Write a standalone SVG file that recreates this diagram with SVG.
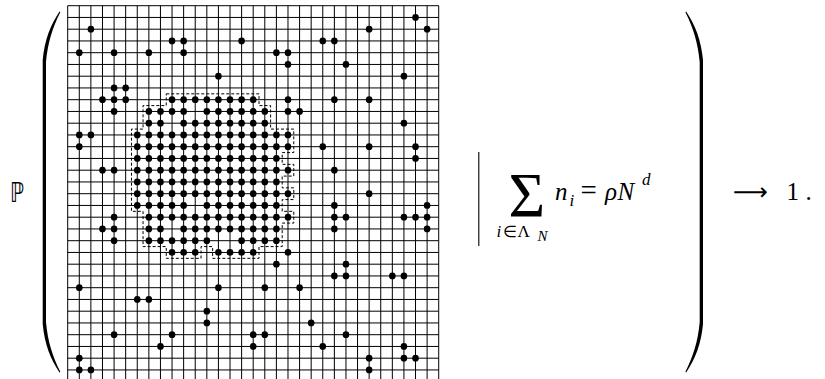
<svg xmlns="http://www.w3.org/2000/svg" width="825" height="379" viewBox="0 0 825 379">
<style>
.grid{fill:none;stroke:#000;stroke-width:1}
.dot{fill:#000}
.contour{fill:none;stroke:#000;stroke-width:1;stroke-dasharray:3 2}
.paren{fill:#000}
.t{font-family:"Liberation Serif","Times New Roman",serif;fill:#000}
.bb{font-family:"DejaVu Sans",sans-serif;fill:#000}
.it{font-style:italic}
</style>
<rect width="825" height="379" fill="#fff"/>
<g id="probability">
<text class="bb" x="10" y="201.5" font-size="27" textLength="14" lengthAdjust="spacingAndGlyphs">ℙ</text>
</g>
<g id="left-paren">
<path class="paren" d="M59.5,11.5 C50.5,25 44.5,40 42.7,60 L42.7,324 C44.5,344 50.5,359 59.5,372.5 L60.3,371.8 C52.8,357 47.8,342 46,322 L46,62 C47.8,42 52.8,27 60.3,12.2 Z"/>
</g>
<g id="lattice">
<path class="grid" d="M67.7 5.7V379M79.29 5.7V379M90.89 5.7V379M102.48 5.7V379M114.08 5.7V379M125.67 5.7V379M137.26 5.7V379M148.86 5.7V379M160.45 5.7V379M172.05 5.7V379M183.64 5.7V379M195.23 5.7V379M206.83 5.7V379M218.42 5.7V379M230.02 5.7V379M241.61 5.7V379M253.2 5.7V379M264.8 5.7V379M276.39 5.7V379M287.99 5.7V379M299.58 5.7V379M311.17 5.7V379M322.77 5.7V379M334.36 5.7V379M345.96 5.7V379M357.55 5.7V379M369.14 5.7V379M380.74 5.7V379M392.33 5.7V379M403.93 5.7V379M415.52 5.7V379M427.11 5.7V379M438.71 5.7V379
M67.7 5.7H438.71M67.7 17.45H438.71M67.7 29.2H438.71M67.7 40.95H438.71M67.7 52.7H438.71M67.7 64.45H438.71M67.7 76.2H438.71M67.7 87.95H438.71M67.7 99.7H438.71M67.7 111.45H438.71M67.7 123.2H438.71M67.7 134.95H438.71M67.7 146.7H438.71M67.7 158.45H438.71M67.7 170.2H438.71M67.7 181.95H438.71M67.7 193.7H438.71M67.7 205.45H438.71M67.7 217.2H438.71M67.7 228.95H438.71M67.7 240.7H438.71M67.7 252.45H438.71M67.7 264.2H438.71M67.7 275.95H438.71M67.7 287.7H438.71M67.7 299.45H438.71M67.7 311.2H438.71M67.7 322.95H438.71M67.7 334.7H438.71M67.7 346.45H438.71M67.7 358.2H438.71M67.7 369.95H438.71"/>
</g>
<g id="droplet-boundary">
<path class="contour" d="M166.25,93.83 H259 V105.58 H270.6 V129.08 H293.78 V152.58 H282.19 V164.33 H293.78 V176.08 H282.19 V187.83 H293.78 V199.58 H282.19 V211.33 H293.78 V223.08 H282.19 V246.58 H259 V258.33 H212.63 V246.58 H201.03 V258.33 H166.25 V246.58 H143.06 V211.33 H131.47 V129.08 H143.06 V105.58 H166.25 Z"/>
</g>
<g id="particles" class="dot" transform="matrix(11.594 0 0 11.75 67.7 5.7)">
<!-- droplet -->
<circle cx="9" cy="8" r="0.285"/><circle cx="10" cy="8" r="0.285"/><circle cx="11" cy="8" r="0.285"/><circle cx="12" cy="8" r="0.285"/><circle cx="13" cy="8" r="0.285"/><circle cx="14" cy="8" r="0.285"/><circle cx="15" cy="8" r="0.285"/><circle cx="16" cy="8" r="0.285"/>
<circle cx="7" cy="9" r="0.285"/><circle cx="8" cy="9" r="0.285"/><circle cx="9" cy="9" r="0.285"/><circle cx="10" cy="9" r="0.285"/><circle cx="12" cy="9" r="0.285"/><circle cx="13" cy="9" r="0.285"/><circle cx="14" cy="9" r="0.285"/><circle cx="15" cy="9" r="0.285"/><circle cx="16" cy="9" r="0.285"/><circle cx="17" cy="9" r="0.285"/>
<circle cx="7" cy="10" r="0.285"/><circle cx="8" cy="10" r="0.285"/><circle cx="10" cy="10" r="0.285"/><circle cx="11" cy="10" r="0.285"/><circle cx="12" cy="10" r="0.285"/><circle cx="13" cy="10" r="0.285"/><circle cx="14" cy="10" r="0.285"/><circle cx="15" cy="10" r="0.285"/><circle cx="16" cy="10" r="0.285"/><circle cx="17" cy="10" r="0.285"/>
<circle cx="6" cy="11" r="0.285"/><circle cx="7" cy="11" r="0.285"/><circle cx="8" cy="11" r="0.285"/><circle cx="9" cy="11" r="0.285"/><circle cx="10" cy="11" r="0.285"/><circle cx="11" cy="11" r="0.285"/><circle cx="12" cy="11" r="0.285"/><circle cx="13" cy="11" r="0.285"/><circle cx="14" cy="11" r="0.285"/><circle cx="15" cy="11" r="0.285"/><circle cx="16" cy="11" r="0.285"/><circle cx="17" cy="11" r="0.285"/><circle cx="18" cy="11" r="0.285"/><circle cx="19" cy="11" r="0.285"/>
<circle cx="6" cy="12" r="0.285"/><circle cx="7" cy="12" r="0.285"/><circle cx="8" cy="12" r="0.285"/><circle cx="9" cy="12" r="0.285"/><circle cx="10" cy="12" r="0.285"/><circle cx="11" cy="12" r="0.285"/><circle cx="12" cy="12" r="0.285"/><circle cx="13" cy="12" r="0.285"/><circle cx="14" cy="12" r="0.285"/><circle cx="15" cy="12" r="0.285"/><circle cx="16" cy="12" r="0.285"/><circle cx="17" cy="12" r="0.285"/><circle cx="18" cy="12" r="0.285"/><circle cx="19" cy="12" r="0.285"/>
<circle cx="6" cy="13" r="0.285"/><circle cx="7" cy="13" r="0.285"/><circle cx="8" cy="13" r="0.285"/><circle cx="9" cy="13" r="0.285"/><circle cx="10" cy="13" r="0.285"/><circle cx="11" cy="13" r="0.285"/><circle cx="12" cy="13" r="0.285"/><circle cx="13" cy="13" r="0.285"/><circle cx="14" cy="13" r="0.285"/><circle cx="15" cy="13" r="0.285"/><circle cx="16" cy="13" r="0.285"/><circle cx="17" cy="13" r="0.285"/><circle cx="18" cy="13" r="0.285"/>
<circle cx="6" cy="14" r="0.285"/><circle cx="7" cy="14" r="0.285"/><circle cx="8" cy="14" r="0.285"/><circle cx="9" cy="14" r="0.285"/><circle cx="10" cy="14" r="0.285"/><circle cx="11" cy="14" r="0.285"/><circle cx="12" cy="14" r="0.285"/><circle cx="13" cy="14" r="0.285"/><circle cx="14" cy="14" r="0.285"/><circle cx="15" cy="14" r="0.285"/><circle cx="16" cy="14" r="0.285"/><circle cx="17" cy="14" r="0.285"/><circle cx="18" cy="14" r="0.285"/><circle cx="19" cy="14" r="0.285"/>
<circle cx="6" cy="15" r="0.285"/><circle cx="7" cy="15" r="0.285"/><circle cx="8" cy="15" r="0.285"/><circle cx="9" cy="15" r="0.285"/><circle cx="10" cy="15" r="0.285"/><circle cx="11" cy="15" r="0.285"/><circle cx="12" cy="15" r="0.285"/><circle cx="13" cy="15" r="0.285"/><circle cx="14" cy="15" r="0.285"/><circle cx="15" cy="15" r="0.285"/><circle cx="16" cy="15" r="0.285"/><circle cx="17" cy="15" r="0.285"/><circle cx="18" cy="15" r="0.285"/>
<circle cx="6" cy="16" r="0.285"/><circle cx="7" cy="16" r="0.285"/><circle cx="8" cy="16" r="0.285"/><circle cx="9" cy="16" r="0.285"/><circle cx="10" cy="16" r="0.285"/><circle cx="11" cy="16" r="0.285"/><circle cx="12" cy="16" r="0.285"/><circle cx="13" cy="16" r="0.285"/><circle cx="14" cy="16" r="0.285"/><circle cx="15" cy="16" r="0.285"/><circle cx="16" cy="16" r="0.285"/><circle cx="17" cy="16" r="0.285"/><circle cx="18" cy="16" r="0.285"/><circle cx="19" cy="16" r="0.285"/>
<circle cx="6" cy="17" r="0.285"/><circle cx="7" cy="17" r="0.285"/><circle cx="8" cy="17" r="0.285"/><circle cx="9" cy="17" r="0.285"/><circle cx="10" cy="17" r="0.285"/><circle cx="12" cy="17" r="0.285"/><circle cx="13" cy="17" r="0.285"/><circle cx="14" cy="17" r="0.285"/><circle cx="15" cy="17" r="0.285"/><circle cx="16" cy="17" r="0.285"/><circle cx="17" cy="17" r="0.285"/><circle cx="18" cy="17" r="0.285"/>
<circle cx="7" cy="18" r="0.285"/><circle cx="8" cy="18" r="0.285"/><circle cx="9" cy="18" r="0.285"/><circle cx="10" cy="18" r="0.285"/><circle cx="11" cy="18" r="0.285"/><circle cx="12" cy="18" r="0.285"/><circle cx="13" cy="18" r="0.285"/><circle cx="14" cy="18" r="0.285"/><circle cx="15" cy="18" r="0.285"/><circle cx="16" cy="18" r="0.285"/><circle cx="17" cy="18" r="0.285"/><circle cx="18" cy="18" r="0.285"/><circle cx="19" cy="18" r="0.285"/>
<circle cx="7" cy="19" r="0.285"/><circle cx="8" cy="19" r="0.285"/><circle cx="10" cy="19" r="0.285"/><circle cx="11" cy="19" r="0.285"/><circle cx="12" cy="19" r="0.285"/><circle cx="13" cy="19" r="0.285"/><circle cx="14" cy="19" r="0.285"/><circle cx="15" cy="19" r="0.285"/><circle cx="16" cy="19" r="0.285"/><circle cx="17" cy="19" r="0.285"/><circle cx="18" cy="19" r="0.285"/>
<circle cx="7" cy="20" r="0.285"/><circle cx="8" cy="20" r="0.285"/><circle cx="9" cy="20" r="0.285"/><circle cx="10" cy="20" r="0.285"/><circle cx="11" cy="20" r="0.285"/><circle cx="12" cy="20" r="0.285"/><circle cx="15" cy="20" r="0.285"/><circle cx="16" cy="20" r="0.285"/><circle cx="17" cy="20" r="0.285"/><circle cx="18" cy="20" r="0.285"/>
<circle cx="9" cy="21" r="0.285"/><circle cx="10" cy="21" r="0.285"/><circle cx="11" cy="21" r="0.285"/><circle cx="13" cy="21" r="0.285"/><circle cx="14" cy="21" r="0.285"/><circle cx="15" cy="21" r="0.285"/><circle cx="16" cy="21" r="0.285"/>
<!-- vapour -->
<circle cx="30" cy="1" r="0.285"/>
<circle cx="2" cy="2" r="0.285"/><circle cx="26" cy="2" r="0.285"/><circle cx="31" cy="2" r="0.285"/>
<circle cx="9" cy="3" r="0.285"/><circle cx="10" cy="3" r="0.285"/><circle cx="15" cy="3" r="0.285"/><circle cx="22" cy="3" r="0.285"/><circle cx="23" cy="3" r="0.285"/>
<circle cx="1" cy="4" r="0.285"/><circle cx="4" cy="4" r="0.285"/><circle cx="7" cy="4" r="0.285"/><circle cx="10" cy="4" r="0.285"/><circle cx="18" cy="4" r="0.285"/><circle cx="19" cy="4" r="0.285"/>
<circle cx="19" cy="5" r="0.285"/><circle cx="24" cy="5" r="0.285"/>
<circle cx="13" cy="6" r="0.285"/><circle cx="29" cy="6" r="0.285"/>
<circle cx="4" cy="7" r="0.285"/><circle cx="5" cy="7" r="0.285"/>
<circle cx="3" cy="8" r="0.285"/><circle cx="4" cy="8" r="0.285"/><circle cx="5" cy="8" r="0.285"/><circle cx="19" cy="8" r="0.285"/><circle cx="23" cy="8" r="0.285"/><circle cx="26" cy="8" r="0.285"/>
<circle cx="4" cy="9" r="0.285"/><circle cx="19" cy="9" r="0.285"/><circle cx="20" cy="9" r="0.285"/>
<circle cx="29" cy="10" r="0.285"/>
<circle cx="1" cy="11" r="0.285"/><circle cx="2" cy="11" r="0.285"/>
<circle cx="1" cy="12" r="0.285"/><circle cx="22" cy="12" r="0.285"/><circle cx="26" cy="12" r="0.285"/><circle cx="30" cy="12" r="0.285"/>
<circle cx="30" cy="13" r="0.285"/>
<circle cx="3" cy="14" r="0.285"/><circle cx="4" cy="14" r="0.285"/><circle cx="23" cy="14" r="0.285"/>
<circle cx="26" cy="16" r="0.285"/>
<circle cx="23" cy="17" r="0.285"/><circle cx="31" cy="17" r="0.285"/>
<circle cx="4" cy="18" r="0.285"/><circle cx="23" cy="18" r="0.285"/><circle cx="24" cy="18" r="0.285"/><circle cx="29" cy="18" r="0.285"/><circle cx="30" cy="18" r="0.285"/><circle cx="31" cy="18" r="0.285"/>
<circle cx="3" cy="19" r="0.285"/><circle cx="4" cy="19" r="0.285"/><circle cx="23" cy="19" r="0.285"/><circle cx="31" cy="19" r="0.285"/>
<circle cx="4" cy="20" r="0.285"/>
<circle cx="19" cy="21" r="0.285"/>
<circle cx="18" cy="22" r="0.285"/><circle cx="24" cy="22" r="0.285"/>
<circle cx="23" cy="23" r="0.285"/><circle cx="24" cy="23" r="0.285"/><circle cx="28" cy="23" r="0.285"/><circle cx="29" cy="23" r="0.285"/>
<circle cx="1" cy="24" r="0.285"/><circle cx="13" cy="24" r="0.285"/><circle cx="17" cy="24" r="0.285"/><circle cx="20" cy="24" r="0.285"/>
<circle cx="6" cy="25" r="0.285"/><circle cx="7" cy="25" r="0.285"/>
<circle cx="12" cy="26" r="0.285"/>
<circle cx="12" cy="27" r="0.285"/><circle cx="21" cy="27" r="0.285"/>
<circle cx="4" cy="28" r="0.285"/><circle cx="9" cy="28" r="0.285"/><circle cx="16" cy="28" r="0.285"/><circle cx="17" cy="28" r="0.285"/><circle cx="24" cy="28" r="0.285"/>
<circle cx="8" cy="29" r="0.285"/><circle cx="16" cy="29" r="0.285"/><circle cx="22" cy="29" r="0.285"/><circle cx="29" cy="29" r="0.285"/>
<circle cx="1" cy="30" r="0.285"/><circle cx="26" cy="30" r="0.285"/><circle cx="29" cy="30" r="0.285"/><circle cx="30" cy="30" r="0.285"/>
<circle cx="1" cy="31" r="0.285"/><circle cx="2" cy="31" r="0.285"/><circle cx="26" cy="31" r="0.285"/>
</g>
<g id="condition-bar">
<path d="M478.8,152V246" stroke="#000" stroke-width="1.1" fill="none"/>
</g>
<g id="constraint">
<text class="t"><tspan x="508.5" y="216.7" font-size="63">Σ</tspan><tspan class="it" x="496.5" y="236.7" font-size="17">i</tspan><tspan x="503" y="236.7" font-size="16">∈</tspan><tspan x="517.5" y="236.7" font-size="17">Λ</tspan><tspan class="it" x="537.5" y="241" font-size="15">N</tspan></text>
<text class="t"><tspan class="it" x="555" y="200" font-size="25">n</tspan><tspan class="it" x="569.5" y="205.5" font-size="17">i</tspan><tspan x="580.5" y="200" font-size="29">=</tspan><tspan class="it" x="605" y="200" font-size="25">ρ</tspan><tspan class="it" x="617.5" y="200" font-size="25">N</tspan><tspan class="it" x="642" y="185" font-size="17">d</tspan></text>
</g>
<g id="right-paren">
<path class="paren" d="M686.2,11.5 C695.2,25 701.2,40 703,60 L703,324 C701.2,344 695.2,359 686.2,372.5 L685.4,371.8 C692.9,357 697.9,342 699.7,322 L699.7,62 C697.9,42 692.9,27 685.4,12.2 Z"/>
</g>
<g id="limit">
<text class="bb" x="733" y="200" font-size="24" textLength="35" lengthAdjust="spacingAndGlyphs">⟶</text>
<text class="t" x="786.5" y="200" font-size="25">1</text>
<text class="t" x="805.5" y="200" font-size="25">.</text>
</g>
</svg>
